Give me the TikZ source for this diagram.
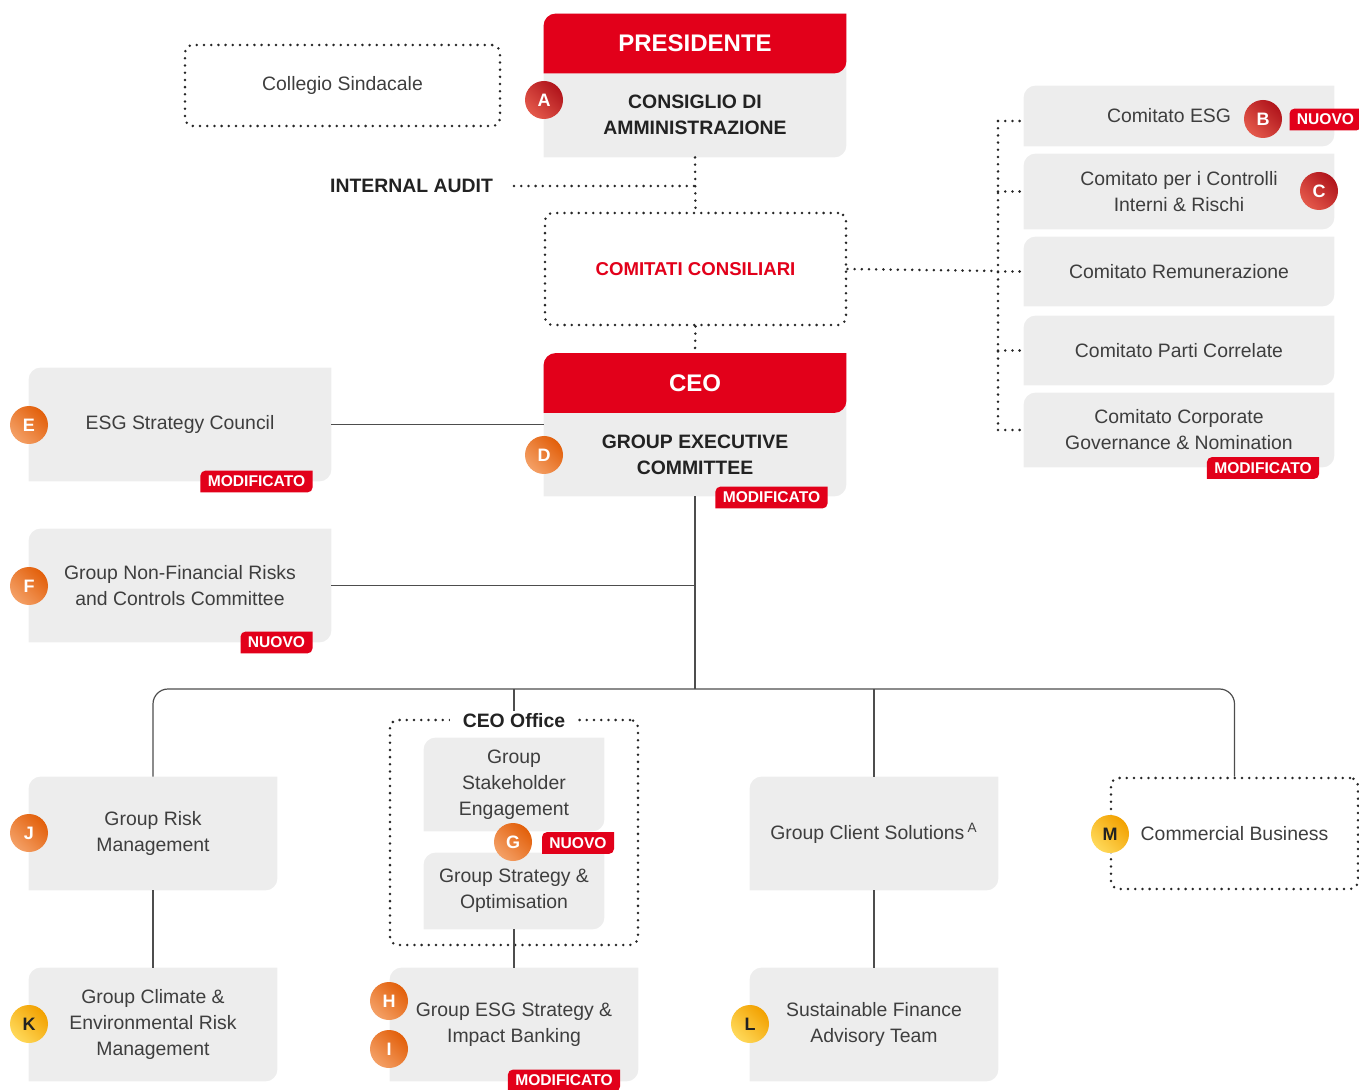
\documentclass[tikz,border=0pt]{standalone}
\usepackage{fontspec}
\setmainfont{Liberation Sans}
\usetikzlibrary{backgrounds}

\definecolor{ucred}{HTML}{E2001A}
\definecolor{boxgray}{HTML}{EDEDED}
\definecolor{txt}{HTML}{3E3E3E}
\definecolor{dark}{HTML}{222222}
\definecolor{linec}{HTML}{4D4D4D}
\definecolor{redd}{HTML}{B0141B}
\definecolor{redl}{HTML}{E4594B}
\definecolor{orad}{HTML}{E25F0A}
\definecolor{oral}{HTML}{F4A066}
\definecolor{yeld}{HTML}{F2A100}
\definecolor{yell}{HTML}{FFD95A}

% fondo a foglia: angoli arrotondati in alto a sinistra e in basso a destra
\newcommand{\leaf}[3]{(#1 |- #2) -- ([yshift=-#3]#1) arc[start angle=180, end angle=90, radius=#3] -- (#2 |- #1) -- ([yshift=#3]#2) arc[start angle=0, end angle=-90, radius=#3] -- cycle}

\begin{document}
\begin{tikzpicture}[
  x=0.5pt, y=-0.5pt,
  font=\fontsize{9.7}{13}\selectfont,
  box/.style={inner sep=0pt, align=center, text=txt},
  wide/.style={box, minimum width=151pt},
  narrow/.style={box, minimum width=124pt},
  comm/.style={box, minimum width=155pt},
  head/.style={minimum width=151pt, minimum height=29.5pt, inner sep=0pt,
               text=white, font=\bfseries\fontsize{12}{14}\selectfont},
  body/.style={minimum width=151pt, inner sep=0pt, align=center, text=dark,
               font=\bfseries\fontsize{9.7}{13}\selectfont},
  bold/.style={text=dark, font=\bfseries\fontsize{9.7}{12}\selectfont},
  dots/.style={line width=1.4pt, dash pattern=on 0pt off 3.6pt, line cap=round, black!85},
  dotbox/.style={draw, dots, rounded corners=4pt, inner sep=0pt, align=center, text=txt},
  conn/.style={line width=0.6pt, linec},
  circ/.style={circle, minimum size=19pt, inner sep=0pt, text=white,
               font=\bfseries\fontsize{9}{9}\selectfont},
  redc/.style={circ, top color=redd, bottom color=redl, shading angle=-45},
  orac/.style={circ, top color=orad, bottom color=oral, shading angle=-45},
  yelc/.style={circ, top color=yeld, bottom color=yell, shading angle=-45, text=dark},
  tag/.style={text=white, font=\bfseries\fontsize{7.8}{8}\selectfont,
              inner xsep=3.5pt, inner ysep=0pt, minimum height=10.5pt}
]
\useasboundingbox (0,0) rectangle (1359,1090);

% ---- Vertice ----
\node[head] (pres) at (695,43.5) {PRESIDENTE};
\node[body, minimum height=42pt] (cda) at (695,115) {CONSIGLIO DI\\AMMINISTRAZIONE};
\node[dotbox, minimum width=157.5pt, minimum height=40.5pt] (coll) at (342.5,85.5) {Collegio Sindacale};
\node[bold, anchor=east] (audit) at (500,186) {INTERNAL AUDIT};
\node[dotbox, minimum width=150.5pt, minimum height=56pt, text=ucred,
      font=\bfseries\fontsize{9.3}{12}\selectfont] (comcons) at (695.5,269) {COMITATI CONSILIARI};

% ---- Comitati consiliari ----
\coordinate (cbus) at (998,271);
\node[comm, minimum height=30pt] (cesg) at (1179,116) {Comitato ESG\hspace*{10pt}};
\node[comm, minimum height=37.5pt] (cpcir) at (1179,191.5) {Comitato per i Controlli\\Interni \& Rischi};
\node[comm, minimum height=34.5pt] (crem) at (1179,271.5) {Comitato Remunerazione};
\node[comm, minimum height=34.5pt] (cpc) at (1179,350.5) {Comitato Parti Correlate};
\node[comm, minimum height=37pt] (ccgn) at (1179,430) {Comitato Corporate\\Governance \& Nomination};

% ---- CEO ----
\node[head] (ceo) at (695,383) {CEO};
\node[body, minimum height=41.5pt] (gec) at (695,454.5) {GROUP EXECUTIVE\\COMMITTEE};
\node[wide, minimum height=56.5pt] (esc) at (180,424.5) {ESG Strategy Council};
\node[wide, minimum height=56.5pt] (gnfr) at (180,585.5) {Group Non-Financial Risks\\and Controls Committee};

% ---- Strutture ----
\coordinate (obus) at (695,689);
\node[narrow, minimum height=56.5pt] (grm) at (153,833.5) {Group Risk\\Management};
\node[narrow, minimum height=56.5pt] (gcerm) at (153,1024.5) {Group Climate \&\\Environmental Risk\\Management};
\node[dotbox, minimum width=124pt, minimum height=112.5pt] (ceooff) at (514,832.5) {};
\node[bold, fill=white, inner xsep=6.5pt, inner ysep=1pt] (offlbl) at (514,721) {CEO Office};
\node[box, minimum width=90pt, minimum height=46.5pt] (gse) at (514,784.5) {Group\\Stakeholder\\Engagement};
\node[box, minimum width=90pt, minimum height=38pt] (gso) at (514,891) {Group Strategy \&\\Optimisation};
\node[narrow, minimum height=56.5pt] (gesg) at (514,1024.5) {Group ESG Strategy \&\\Impact Banking};
\node[narrow, minimum height=56.5pt] (gcs) at (874,833.5) {Group Client Solutions\,\textsuperscript{A}};
\node[narrow, minimum height=56.5pt] (sfat) at (874,1024.5) {Sustainable Finance\\Advisory Team};
\node[dotbox, minimum width=123.5pt, minimum height=55.5pt] (cb) at (1234.5,833.5) {Commercial Business};

% ---- Collegamenti ----
\draw[dots] (cda.south) -- (comcons.north);
\draw[dots] ([xshift=7pt]audit.east) -- (audit.east -| cda.south);
\draw[dots] (comcons.south) -- (ceo.north);
\draw[dots] (comcons.east) -- (cbus);
\draw[dots] ([yshift=-2.5pt]cbus |- cesg.west) -- (cbus |- ccgn.west);
\draw[dots] ([yshift=-2.5pt]cbus |- cesg.west) -- ([yshift=-2.5pt]cesg.west);
\foreach \c in {cpcir,crem,cpc,ccgn}
  \draw[dots] (cbus |- \c.west) -- (\c.west);
\draw[conn] (esc.east) -- (esc.east -| gec.west);
\draw[conn] (gnfr.east) -- (gnfr.east -| gec.south);
\draw[conn] (gec.south) -- (obus);
\draw[conn, rounded corners=7.5pt] (grm.north) |- (obus) -| (cb.north);
\draw[conn] (ceooff.north |- obus) -- (offlbl.north);
\draw[conn] (gcs.north) -- (gcs.north |- obus);
\draw[conn] (grm.south) -- (gcerm.north);
\draw[conn] (gcs.south) -- (sfat.north);
\draw[conn] (gso.south) -- (gesg.north);

% ---- Lettere ----
\node[redc] (la) at (544,100) {A};
\node[redc] (lb) at (1263,119) {B};
\node[redc] (lc) at (1319,191) {C};
\node[orac] (ld) at (544,455) {D};
\node[orac] (le) at (29,425) {E};
\node[orac] (lf) at (29,586) {F};
\node[orac] (lg) at (513,842) {G};
\node[orac] (lh) at (389,1001) {H};
\node[orac] (li) at (389,1049) {I};
\node[orac] (lj) at (29,833) {J};
\node[yelc] (lk) at (29,1024) {K};
\node[yelc] (ll) at (750,1024) {L};
\node[yelc] (lm) at (1110,834) {M};

% ---- Etichette ----
\node[tag] (tgb) at (1325.5,119.5) {NUOVO};
\node[tag] (tgcg) at (1263,468) {MODIFICATO};
\node[tag] (tggec) at (771.5,497.5) {MODIFICATO};
\node[tag] (tgesc) at (256.5,481.5) {MODIFICATO};
\node[tag] (tgnfr) at (276.5,642.5) {NUOVO};
\node[tag] (tgg) at (578,843) {NUOVO};
\node[tag] (tgesg) at (564,1080.5) {MODIFICATO};

% ---- Sfondi ----
\begin{scope}[on background layer]
  \fill[boxgray] \leaf{pres.north west}{cda.south east}{6pt};
  \fill[ucred] \leaf{pres.north west}{pres.south east}{6pt};
  \fill[boxgray] \leaf{ceo.north west}{gec.south east}{6pt};
  \fill[ucred] \leaf{ceo.north west}{ceo.south east}{6pt};
  \foreach \n in {cesg,cpcir,crem,cpc,ccgn,esc,gnfr,grm,gcerm,gse,gso,gesg,gcs,sfat}
    \fill[boxgray] \leaf{\n.north west}{\n.south east}{6pt};
  \foreach \n in {tgb,tgcg,tggec,tgesc,tgnfr,tgg,tgesg}
    \fill[ucred] \leaf{\n.north west}{\n.south east}{2.5pt};
\end{scope}
\end{tikzpicture}
\end{document}
